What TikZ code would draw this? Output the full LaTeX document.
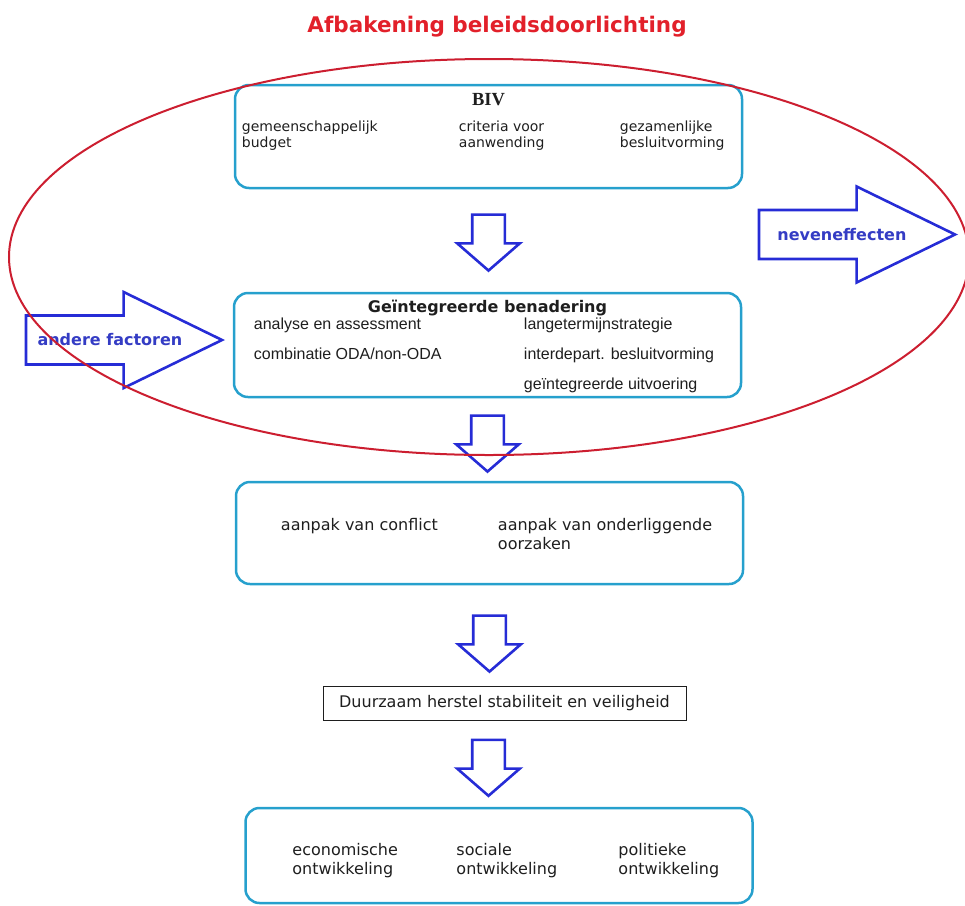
\documentclass[tikz,border=0pt]{standalone}
\usepackage{fontspec}
\setmainfont{DejaVu Sans}
\newfontfamily\tahoma{Liberation Sans}
\newfontfamily\serifbiv{Liberation Serif}
\usepackage{tikz}
\usetikzlibrary{positioning, shapes.arrows}

\definecolor{kaderblauw}{RGB}{38,160,205}
\definecolor{pijlblauw}{RGB}{38,44,214}
\definecolor{tekstblauw}{RGB}{52,60,196}
\definecolor{titelrood}{RGB}{226,32,42}
\definecolor{ovaalrood}{RGB}{204,30,48}
\definecolor{tekstzwart}{RGB}{30,30,30}

\tikzstyle{Kader} = [rectangle, rounded corners = 14pt, draw = kaderblauw, line width = 2.5pt, minimum width = 507pt]
\tikzstyle{Neer} = [single arrow, shape border rotate = 270, draw = pijlblauw, line width = 2.6pt, minimum width = 60pt, minimum height = 56pt, single arrow head extend = 15pt, single arrow tip angle = 98, inner sep = 15pt]
\tikzstyle{Zij} = [single arrow, draw = pijlblauw, line width = 2.6pt, minimum width = 95pt, minimum height = 196pt, single arrow head extend = 23.5pt, single arrow tip angle = 52, inner xsep = 0pt, inner ysep = 17pt, text = tekstblauw, font = \fontsize{16}{19}\selectfont\bfseries]
\tikzstyle{Item} = [inner sep = 0pt, align = left, text = tekstzwart, font = \fontsize{16}{19}\selectfont]
\tikzstyle{BivItem} = [Item, font = \fontsize{14}{15.5}\selectfont]
\tikzstyle{GiItem} = [Item, font = \tahoma\fontsize{16}{19}\selectfont]

\begin{document}
\begin{tikzpicture}[x = 1pt, y = -1pt]
    \useasboundingbox (0,0) rectangle (965,905);

    %%%%%%%%%%%%%%%%%%%%%%
    \node (titel) at (497,27) {\color{titelrood}\fontsize{21.5}{24}\selectfont\bfseries Afbakening beleidsdoorlichting};

    %%%%%%%%%%%%%%%%%%%%%%
    \node[Kader, minimum height = 103pt] (biv) at (488.5,136.5) {};
    \node[Item, font = \serifbiv\fontsize{18.5}{20}\selectfont\bfseries] (bivtitel) [below=9pt of biv.north] {BIV};
    \node[BivItem] (budget) [below right=37pt and 8pt of biv.north west] {gemeenschappelijk\\budget};
    \node[BivItem] (criteria) [below right=37pt and 225pt of biv.north west] {criteria voor\\aanwending};
    \node[BivItem] (besluit) [below right=37pt and 386pt of biv.north west] {gezamenlijke\\besluitvorming};

    \node[Neer] (pijl1) [below=24pt of biv.south, anchor=tail] {};

    %%%%%%%%%%%%%%%%%%%%%%
    \node[Kader, minimum height = 104pt] (geint) at (487.5,345) {};
    \node[Item, font = \fontsize{16}{19}\selectfont\bfseries] (geinttitel) [below=8pt of geint.north] {Geïntegreerde benadering};
    \node[GiItem] (analyse) [below right=26pt and 21pt of geint.north west] {analyse en assessment};
    \node[GiItem] (combinatie) [below right=56pt and 21pt of geint.north west] {combinatie ODA/non-ODA};
    \node[GiItem] (langetermijn) [below right=26pt and 291pt of geint.north west] {langetermijnstrategie};
    \node[GiItem] (interdepart) [below right=56pt and 291pt of geint.north west] {interdepart. besluitvorming};
    \node[GiItem] (uitvoering) [below right=86pt and 291pt of geint.north west] {geïntegreerde uitvoering};

    \node[Zij, anchor=tip] (andere) at (225,340) {andere factoren\hspace*{-22pt}};
    \node[Zij, anchor=tip] (neven) at (958,234.5) {neveneffecten\hspace*{-20pt}};

    \node[Neer] (pijl2) [below=16pt of geint.south, anchor=tail] {};

    %%%%%%%%%%%%%%%%%%%%%%
    \node[Kader, minimum height = 102pt] (aanpak) at (489.5,533) {};
    \node[Item] (conflict) [below right=37pt and 46pt of aanpak.north west] {aanpak van conflict};
    \node[Item] (oorzaken) [below right=37pt and 263pt of aanpak.north west] {aanpak van onderliggende\\oorzaken};

    \node[Neer] (pijl3) [below=29pt of aanpak.south, anchor=tail] {};

    %%%%%%%%%%%%%%%%%%%%%%
    \node[Item, draw = tekstzwart, line width = 1pt, minimum width = 363pt, minimum height = 34pt] (herstel) at (504.5,703) {Duurzaam herstel stabiliteit en veiligheid};

    \node[Neer] (pijl4) [below=18pt of herstel.south, xshift=-16pt, anchor=tail] {};

    %%%%%%%%%%%%%%%%%%%%%%
    \node[Kader, minimum height = 95pt] (ontw) at (499,855.5) {};
    \node[Item] (economisch) [below right=36pt and 48pt of ontw.north west] {economische\\ontwikkeling};
    \node[Item] (sociaal) [below right=36pt and 212pt of ontw.north west] {sociale\\ontwikkeling};
    \node[Item] (politiek) [below right=36pt and 374pt of ontw.north west] {politieke\\ontwikkeling};

    %%%%%%%%%%%%%%%%%%%%%%
    \draw [ovaalrood, line width = 2pt] (489,257) ellipse [x radius = 480pt, y radius = 198pt];

\end{tikzpicture}
\end{document}
